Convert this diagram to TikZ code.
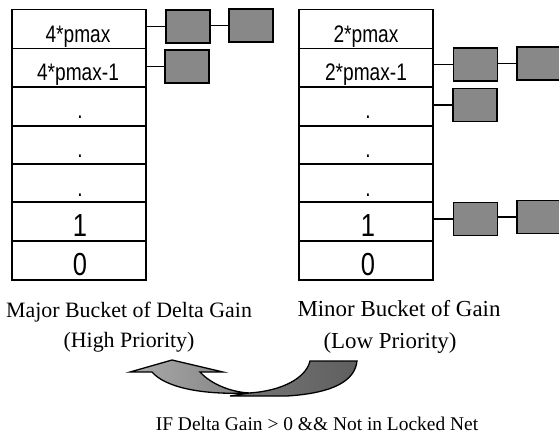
\documentclass[tikz,border=0pt]{standalone}
\usepackage{fontspec}
\setmainfont{Liberation Serif}
\newfontfamily\labfont[FakeStretch=0.8]{Liberation Sans}
\definecolor{boxgray}{RGB}{136,136,136}
\begin{document}
\begin{tikzpicture}[x=1bp,y=-1bp,
  rowbox/.style={draw=black,line width=1.6bp,minimum width=134bp,minimum height=38.7bp,inner sep=0pt,outer sep=0pt},
  graybox/.style={draw=black,line width=1.5bp,fill=boxgray,minimum width=44bp,minimum height=33bp,inner sep=0pt,outer sep=0pt},
  lab/.style={font=\labfont\fontsize{24}{24}\selectfont,anchor=base,inner sep=0pt},
  biglab/.style={font=\labfont\fontsize{32}{32}\selectfont,anchor=base,inner sep=0pt},
  captext/.style={font=\fontsize{22}{22}\selectfont,anchor=base,inner sep=0pt},
  captextr/.style={font=\fontsize{23}{23}\selectfont,anchor=base,inner sep=0pt},
  conn/.style={draw=black,line width=1.3bp}]
\useasboundingbox (0,0) rectangle (559,437);
\begin{scope}
\clip (0,0) rectangle (559,437);
\foreach \i/\yc in {1/29,2/68,3/106.5,4/145,5/183,6/221.5,7/260.5}{
  \node[rowbox] (L\i) at (79,\yc) {};
  \node[rowbox] (R\i) at (366,\yc) {};
}
\node[lab] (tL1) at (78,43) {4*pmax};
\node[lab] (tL2) at (78,81) {4*pmax-1};
\node[lab] (tL3) at (80,119) {.};
\node[lab] (tL4) at (80,158) {.};
\node[lab] (tL5) at (80,197) {.};
\node[biglab] (tL6) at (80,237) {1};
\node[biglab] (tL7) at (80,276) {0};
\node[lab] (tR1) at (366,43) {2*pmax};
\node[lab] (tR2) at (366,81) {2*pmax-1};
\node[lab] (tR3) at (368,119) {.};
\node[lab] (tR4) at (368,158) {.};
\node[lab] (tR5) at (368,197) {.};
\node[biglab] (tR6) at (368,237) {1};
\node[biglab] (tR7) at (368,276) {0};
\node[graybox] (LA1) at (188,26.5) {};
\node[graybox] (LA2) at (251,25.5) {};
\node[graybox] (LB1) at (187,66.5) {};
\node[graybox,minimum width=46bp] (RA2) at (540,63.5) {};
\node[graybox] (RA1) at (475.5,64.5) {};
\node[graybox] (RB1) at (475,105) {};
\node[graybox] (RC1) at (475.5,219) {};
\node[graybox,minimum width=46bp] (RC2) at (540,217) {};
\draw[conn] (L1.east |- LA1.west) -- (LA1.west);
\draw[conn] (LA1.east |- LA2.west) -- (LA2.west);
\draw[conn] (L2.east |- LB1.west) -- (LB1.west);
\draw[conn] (R2.east |- RA1.west) -- (RA1.west);
\draw[conn] (RA1.east |- RA2.west) -- (RA2.west);
\draw[conn] (R3.east |- RB1.west) -- (RB1.west);
\draw[conn] (R6.east |- RC1.west) -- (RC1.west);
\draw[conn] (RC1.east |- RC2.west) -- (RC2.west);
\end{scope}
\node[captext] (c1) at (129,317) {Major Bucket of Delta Gain};
\node[captext] (c2) at (129,347) {(High Priority)};
\node[captextr] (c3) at (399,316) {Minor Bucket of Gain};
\node[captextr] (c4) at (390,348) {(Low Priority)};
\node[font=\fontsize{19.5}{19.5}\selectfont,anchor=base,inner sep=0pt] (c5) at (317,430) {IF Delta Gain > 0 \&\& Not in Locked Net};
\coordinate (mid) at (249,393);
\shade[left color={rgb,255:red,170;green,170;blue,170},right color={rgb,255:red,130;green,130;blue,130},draw=black,line width=1.3bp]
  (130,372) -- (172,360) -- (223,372) -- (200,372)
  .. controls (212,385) and (232,392) .. (mid)
  .. controls (200,395) and (165,387) .. (152,372) -- cycle;
\shade[left color={rgb,255:red,120;green,120;blue,120},right color={rgb,255:red,95;green,95;blue,95},draw=black,line width=1.3bp]
  (mid) -- (230,396) -- (287,396)
  .. controls (335,393) and (355,380) .. (357,361) -- (310,361)
  .. controls (306,378) and (282,391) .. (mid) -- cycle;
\end{tikzpicture}
\end{document}
